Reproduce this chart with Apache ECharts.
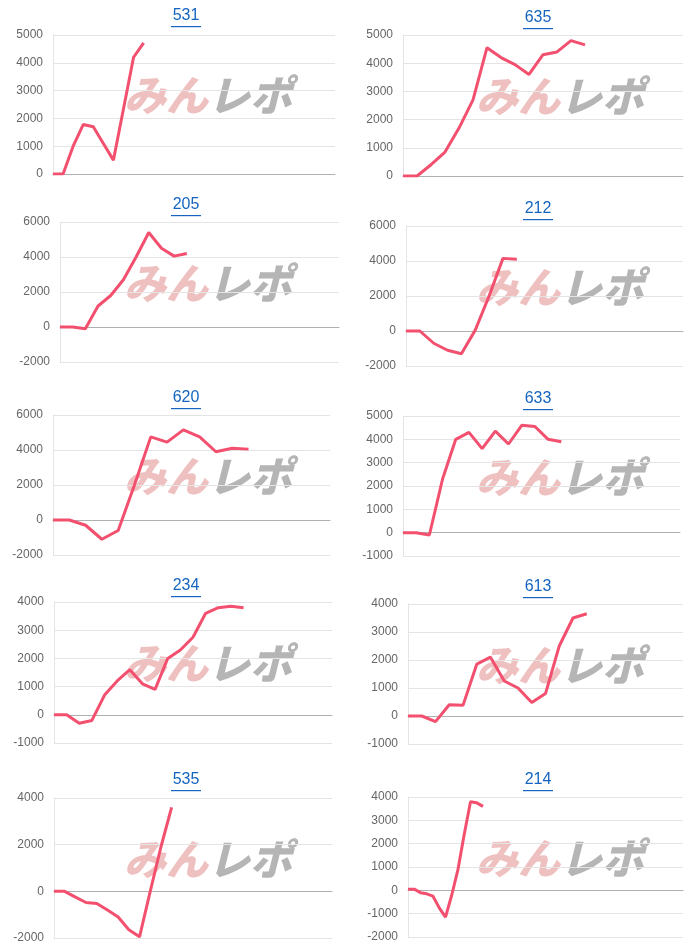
<!DOCTYPE html>
<html>
<head>
<meta charset="utf-8">
<script src="https://cdn.jsdelivr.net/npm/echarts@6/dist/echarts.min.js"></script>
<style>
html,body{margin:0;padding:0;background:#fff;}
#main{width:700px;height:950px;}
</style>
</head>
<body>
<div id="main"></div>
<script>
// machine names (titles)
var titles = ['531', '635', '205', '212', '620', '633', '234', '613', '535', '214'];

// value per game round
var s531 = [0, 0, 1000, 1780, 1700, 1100, 500, 2350, 4200, 4720];
var s635 = [0, 0, 400, 850, 1700, 2700, 4550, 4200, 3950, 3600, 4300, 4400, 4800, 4650];
var s205 = [0, 0, -100, 1200, 1800, 2700, 4000, 5400, 4500, 4050, 4200];
var s212 = [0, 0, -700, -1100, -1300, 50, 2000, 4150, 4100];
var s620 = [0, 0, -300, -1100, -600, 2000, 4750, 4450, 5150, 4750, 3900, 4100, 4050];
var s633 = [0, 0, -100, 2300, 4000, 4300, 3600, 4350, 3800, 4600, 4550, 4000, 3900];
var s234 = [0, 0, -300, -200, 700, 1200, 1600, 1100, 900, 2000, 2300, 2750, 3600, 3800, 3850, 3800];
var s613 = [0, 0, -200, 400, 380, 1850, 2100, 1250, 1000, 480, 800, 2500, 3500, 3650];
var s535 = [0, 0, -250, -480, -520, -800, -1100, -1650, -1950, 0, 1900, 3600];
var s214 = [50, 50, -100, -150, -250, -750, -1150, -200, 900, 2400, 3800, 3750, 3600];

var seriesData = [s531, s635, s205, s212, s620, s633, s234, s613, s535, s214];
// number of slots on each x axis
var slots = [29, 21, 23, 21, 18, 22, 23, 21, 27, 45];

// y axis ranges
var yMin = [0, 0, -2000, -2000, -2000, -1000, -1000, -1000, -2000, -2000];
var yMax = [5000, 5000, 6000, 6000, 6000, 5000, 4000, 4000, 4000, 4000];
var yStep = [1000, 1000, 2000, 2000, 2000, 1000, 1000, 1000, 2000, 1000];

// layout boxes [left, top, width, height]
var boxes = [
  [53, 35, 282, 139], [403, 35, 280, 141],
  [60, 222, 279, 140], [406, 226, 277, 140],
  [53, 415, 277, 140], [403, 416, 277, 140],
  [54, 602, 278, 141], [408, 604, 275, 140],
  [54, 798, 278, 140], [408, 797, 275, 140]
];
var titleTops = [8, 10, 197, 201, 390, 391, 578, 579, 772, 772];

var option = {
  animation: false,
  textStyle: { fontFamily: 'Helvetica, Arial, "Liberation Sans", sans-serif' },
  grid: [], xAxis: [], yAxis: [], series: [], graphic: []
};

for (var i = 0; i < 10; i++) {
  var b = boxes[i];
  var cx = (i % 2 === 0) ? 186 : 538;
  // title link text + underline
  option.graphic.push({
    type: 'text', silent: true, x: cx, y: titleTops[i],
    style: { text: titles[i], fill: '#1565c0', font: '16px Helvetica, Arial, "Liberation Sans", sans-serif', textAlign: 'center', textVerticalAlign: 'top' }
  });
  option.graphic.push({
    type: 'rect', silent: true,
    shape: { x: cx - 15, y: titleTops[i] + 18, width: 30, height: 1.2 },
    style: { fill: '#1565c0' }
  });
  option.grid.push({ left: b[0], top: b[1], width: b[2], height: b[3] });
  var cats = [];
  for (var k = 0; k < slots[i]; k++) cats.push(k + 1);
  option.xAxis.push({
    type: 'category', gridIndex: i, data: cats, boundaryGap: false,
    axisLabel: { show: false }, axisTick: { show: false },
    axisLine: { onZero: true, lineStyle: { color: '#b0b0b0' } }
  });
  option.yAxis.push({
    type: 'value', gridIndex: i, min: yMin[i], max: yMax[i], interval: yStep[i],
    axisLine: { show: true, lineStyle: { color: '#e4e4e4' } },
    axisTick: { show: false },
    axisLabel: { color: '#666', fontSize: 12, margin: 10, formatter: function (v) { return String(v); } },
    splitLine: { lineStyle: { color: '#e4e4e4' } }
  });
  option.series.push({
    type: 'line', xAxisIndex: i, yAxisIndex: i, data: seriesData[i],
    symbol: 'none', lineStyle: { color: '#f2506e', width: 3 }, z: 3
  });
  // watermark logo
  var wy = b[1] + b[3] / 2 - 30;
  option.graphic.push({
    type: 'group', left: cx - 62, top: wy, z: 1, silent: true,
    children: [
      { type: 'text', x: 0, y: 0, style: { text: 'みん', fill: 'rgba(228,150,150,0.6)', font: 'italic 900 42px "Noto Sans CJK JP"' } },
      { type: 'text', x: 84, y: 0, style: { text: 'レポ', fill: 'rgba(150,150,150,0.7)', font: 'italic 900 42px "Noto Sans CJK JP"' } }
    ]
  });
}

var chart = echarts.init(document.getElementById('main'));
chart.setOption(option);
</script>
</body>
</html>
